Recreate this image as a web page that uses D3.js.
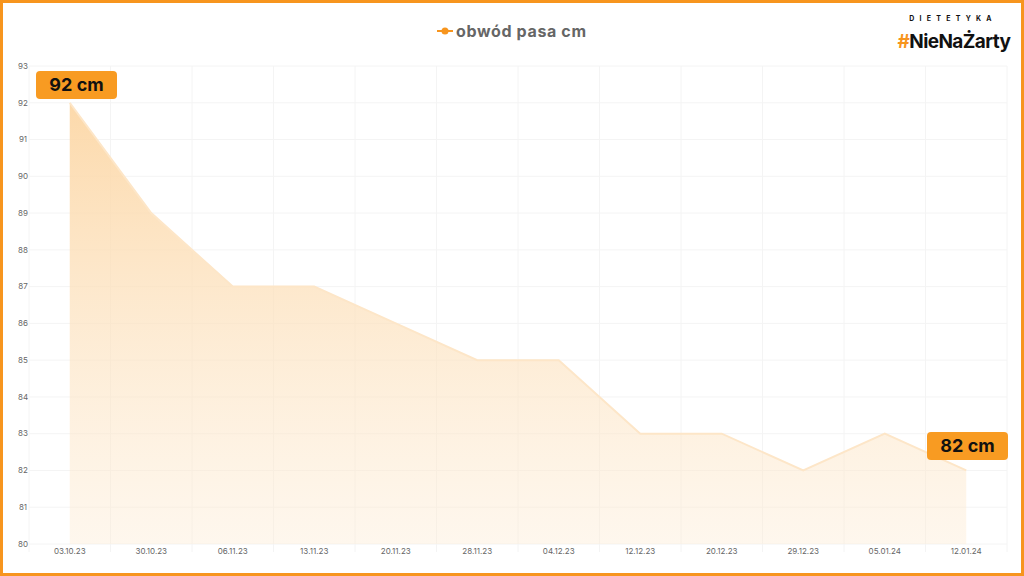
<!DOCTYPE html>
<html>
<head>
<meta charset="utf-8">
<script src="https://cdn.jsdelivr.net/npm/d3@7"></script>
<style>
  body { margin: 0; background: #fff; }
  svg { display: block; font-family: "Inter", "Noto Sans", sans-serif; }
</style>
</head>
<body>
<svg width="1024" height="576"></svg>
<script>
const dates = ['03.10.23', '30.10.23', '06.11.23', '13.11.23', '20.11.23', '28.11.23',
  '04.12.23', '12.12.23', '20.12.23', '29.12.23', '05.01.24', '12.01.24']
const waist = [92, 89, 87, 87, 86, 85, 85, 83, 83, 82, 83, 82]
const yTicks = d3.range(80, 94)
const seriesName = 'obwód pasa cm'

const svg = d3.select('svg')
const orange = '#f7951e'

const x = d3.scaleBand()
    .domain(dates)
    .range([29, 1007])
const y = d3.scaleLinear()
    .domain([80, 93])
    .range([544, 66])
const cx = d => x(d) + x.bandwidth() / 2

const defs = svg.append('defs')
const grad = defs.append('linearGradient')
    .attr('id', 'fill')
    .attr('x1', 0).attr('y1', 0).attr('x2', 0).attr('y2', 1)
grad.append('stop').attr('offset', '0%').attr('stop-color', '#fcd7a6').attr('stop-opacity', 0.95)
grad.append('stop').attr('offset', '100%').attr('stop-color', '#fdebd3').attr('stop-opacity', 0.4)

// grid
const grid = svg.append('g')
grid.selectAll('.h').data(yTicks)
    .enter().append('line')
        .attr('x1', 29).attr('x2', 1007)
        .attr('y1', d => y(d)).attr('y2', d => y(d))
        .attr('stroke', '#f4f4f4')
grid.selectAll('.v').data(dates.concat(['end']))
    .enter().append('line')
        .attr('x1', (d, i) => 29 + i * x.bandwidth())
        .attr('x2', (d, i) => 29 + i * x.bandwidth())
        .attr('y1', 66).attr('y2', 552)
        .attr('stroke', '#f4f4f4')

const rows = dates.map((d, i) => ({ date: d, v: waist[i] }))

svg.append('path')
    .datum(rows)
    .attr('d', d3.area().x(d => cx(d.date)).y0(y(80)).y1(d => y(d.v)))
    .attr('fill', 'url(#fill)')

svg.append('path')
    .datum(rows)
    .attr('d', d3.line().x(d => cx(d.date)).y(d => y(d.v)))
    .attr('fill', 'none')
    .attr('stroke', '#fde6c8')
    .attr('stroke-width', 2)

// axes text
svg.append('g').selectAll('text').data(yTicks)
    .enter().append('text')
        .attr('x', 23).attr('y', d => y(d))
        .attr('dy', '0.35em')
        .attr('text-anchor', 'middle')
        .attr('font-size', 8)
        .attr('fill', '#666')
        .text(d => d)

svg.append('g').selectAll('text').data(dates)
    .enter().append('text')
        .attr('x', cx).attr('y', 551)
        .attr('dy', '0.35em')
        .attr('text-anchor', 'middle')
        .attr('font-size', 8)
        .attr('fill', '#666')
        .text(d => d)

// value badges
const badges = [
    { row: rows[0], bx: 36, by: 71 },
    { row: rows[rows.length - 1], bx: 927, by: 432 }
]
badges.forEach(b => {
    svg.append('rect')
        .attr('x', b.bx).attr('y', b.by)
        .attr('width', 81).attr('height', 28)
        .attr('rx', 4)
        .attr('fill', '#f89b22')
    svg.append('text')
        .attr('x', b.bx + 40.5).attr('y', b.by + 14)
        .attr('dy', '0.35em')
        .attr('text-anchor', 'middle')
        .attr('font-size', 18)
        .attr('font-weight', 700)
        .attr('fill', '#111')
        .text(b.row.v + ' cm')
})

// legend
const lg = svg.append('g').attr('transform', 'translate(437,31)')
lg.append('line').attr('x1', 0).attr('x2', 16).attr('stroke', orange).attr('stroke-width', 2)
lg.append('circle').attr('cx', 8).attr('r', 3.5).attr('fill', orange)
lg.append('text')
    .attr('x', 19).attr('dy', '0.35em')
    .attr('font-size', 16).attr('font-weight', 700)
    .attr('textLength', 130)
    .attr('fill', '#666')
    .text(seriesName)

// logo
svg.append('text')
    .attr('x', 953).attr('y', 21)
    .attr('text-anchor', 'middle')
    .attr('font-size', 7).attr('font-weight', 700)
    .attr('letter-spacing', '0.75em')
    .attr('fill', '#111')
    .text('DIETETYKA')
const logo = svg.append('text')
    .attr('x', 954).attr('y', 48)
    .attr('text-anchor', 'middle')
    .attr('font-size', 19).attr('font-weight', 700)
    .attr('letter-spacing', '-0.6')
    .attr('fill', '#111')
logo.append('tspan').attr('fill', orange).text('#')
logo.append('tspan').text('NieNaŻarty')

// frame
svg.append('rect')
    .attr('x', 1.5).attr('y', 1.5)
    .attr('width', 1021).attr('height', 573)
    .attr('fill', 'none')
    .attr('stroke', orange)
    .attr('stroke-width', 3)
</script>
</body>
</html>
